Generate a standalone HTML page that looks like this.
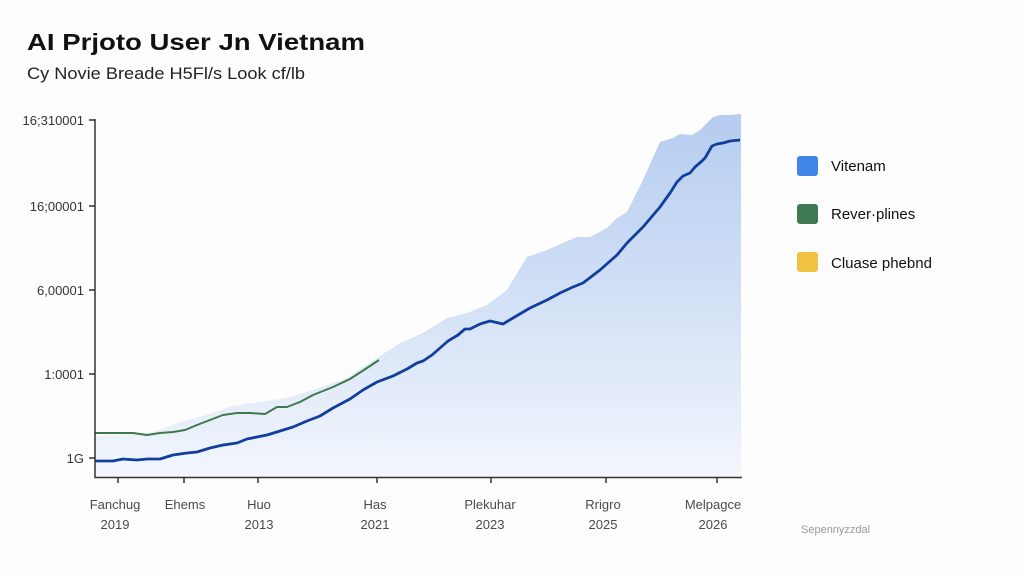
<!DOCTYPE html>
<html><head><meta charset="utf-8"><style>
html,body{margin:0;padding:0;background:#fdfdfd;}
svg{display:block;}
text{font-family:"Liberation Sans",sans-serif;}
</style></head><body>
<svg width="1024" height="576" viewBox="0 0 1024 576" xmlns="http://www.w3.org/2000/svg">
<defs>
<linearGradient id="g" gradientUnits="userSpaceOnUse" x1="0" y1="114" x2="0" y2="477">
<stop offset="0" stop-color="#b5ccf0"/>
<stop offset="0.5" stop-color="#d2e0f6"/>
<stop offset="1" stop-color="#f3f6fc"/>
</linearGradient>
</defs>
<rect width="1024" height="576" fill="#fdfdfd"/>
<text x="27" y="50" font-size="23" font-weight="bold" fill="#111" textLength="338" lengthAdjust="spacingAndGlyphs">AI Prjoto User Jn Vietnam</text>
<text x="27" y="79" font-size="17" fill="#222" textLength="278" lengthAdjust="spacingAndGlyphs">Cy Novie Breade H5Fl/s Look cf/lb</text>

<path d="M95,436 L113,435 L133,434 L150,433 L180,422 L200,417 L233,406 L253,403 L287,398 L313,390 L347,378 L377,358 L400,343 L423,333 L447,318 L467,313 L487,305 L507,290 L527,257 L547,250 L563,243 L577,237 L590,237 L607,228 L617,218 L627,212 L643,180 L660,142 L673,138 L680,134 L692,135 L700,130 L713,117 L720,115 L730,115 L741,114 L741,477 L95,477 Z" fill="url(#g)"/>

<polyline fill="none" stroke="#3d7a4a" stroke-width="2" stroke-linejoin="round" points="95,433 113,433 133,433 147,435 160,433 173,432 185,430 197,425 210,420 223,415 237,413 250,413 265,414 277,407 287,407 300,402 313,395 333,387 350,379 367,368 379,360"/>

<polyline fill="none" stroke="#103f9c" stroke-width="2.8" stroke-linejoin="round" points="95,461 113,461 123,459 137,460 147,459 160,459 173,455 187,453 197,452 210,448 223,445 237,443 247,439 257,437 267,435 280,431 293,427 307,421 320,416 333,408 350,399 363,390 377,382 393,376 407,369 417,363 423,361 432,355 440,348 448,341 458,335 465,329 470,329 480,324 490,321 503,324 513,318 530,308 547,300 560,293 573,287 583,283 600,270 617,255 627,243 643,227 660,207 670,193 677,182 683,176 690,173 695,167 702,161 705,158 712,146 717,144 723,143 730,141 740,140"/>

<g stroke="#333" stroke-width="1.5" fill="none">
<path d="M95,119 L95,477.5 L742,477.5"/>
<path d="M89,120 H95 M89,206 H95 M89,290 H95 M89,374 H95 M89,458 H95"/>
<path d="M118,477 V483 M184,477 V483 M258,477 V483 M377,477 V483 M491,477 V483 M606,477 V483 M717,477 V483"/>
</g>

<g font-size="13" fill="#333" text-anchor="end">
<text x="84" y="125">16;310001</text>
<text x="84" y="211">16;00001</text>
<text x="84" y="295">6,00001</text>
<text x="84" y="379">1:0001</text>
<text x="84" y="463">1G</text>
</g>

<g font-size="13" fill="#4a4a4a" text-anchor="middle">
<text x="115" y="509">Fanchug</text><text x="115" y="529">2019</text>
<text x="185" y="509">Ehems</text>
<text x="259" y="509">Huo</text><text x="259" y="529">2013</text>
<text x="375" y="509">Has</text><text x="375" y="529">2021</text>
<text x="490" y="509">Plekuhar</text><text x="490" y="529">2023</text>
<text x="603" y="509">Rrigro</text><text x="603" y="529">2025</text>
<text x="713" y="509">Melpagce</text><text x="713" y="529">2026</text>
</g>
<text x="801" y="533" font-size="11" fill="#999">Sepennyzzdal</text>

<rect x="797" y="156" width="21" height="20" rx="3" fill="#4285e8"/>
<rect x="797" y="204" width="21" height="20" rx="3" fill="#3f7a55"/>
<rect x="797" y="252" width="21" height="20" rx="3" fill="#f0c243"/>
<g font-size="15" fill="#111">
<text x="831" y="171">Vitenam</text>
<text x="831" y="219">Rever·plines</text>
<text x="831" y="268">Cluase phebnd</text>
</g>
</svg>
</body></html>
